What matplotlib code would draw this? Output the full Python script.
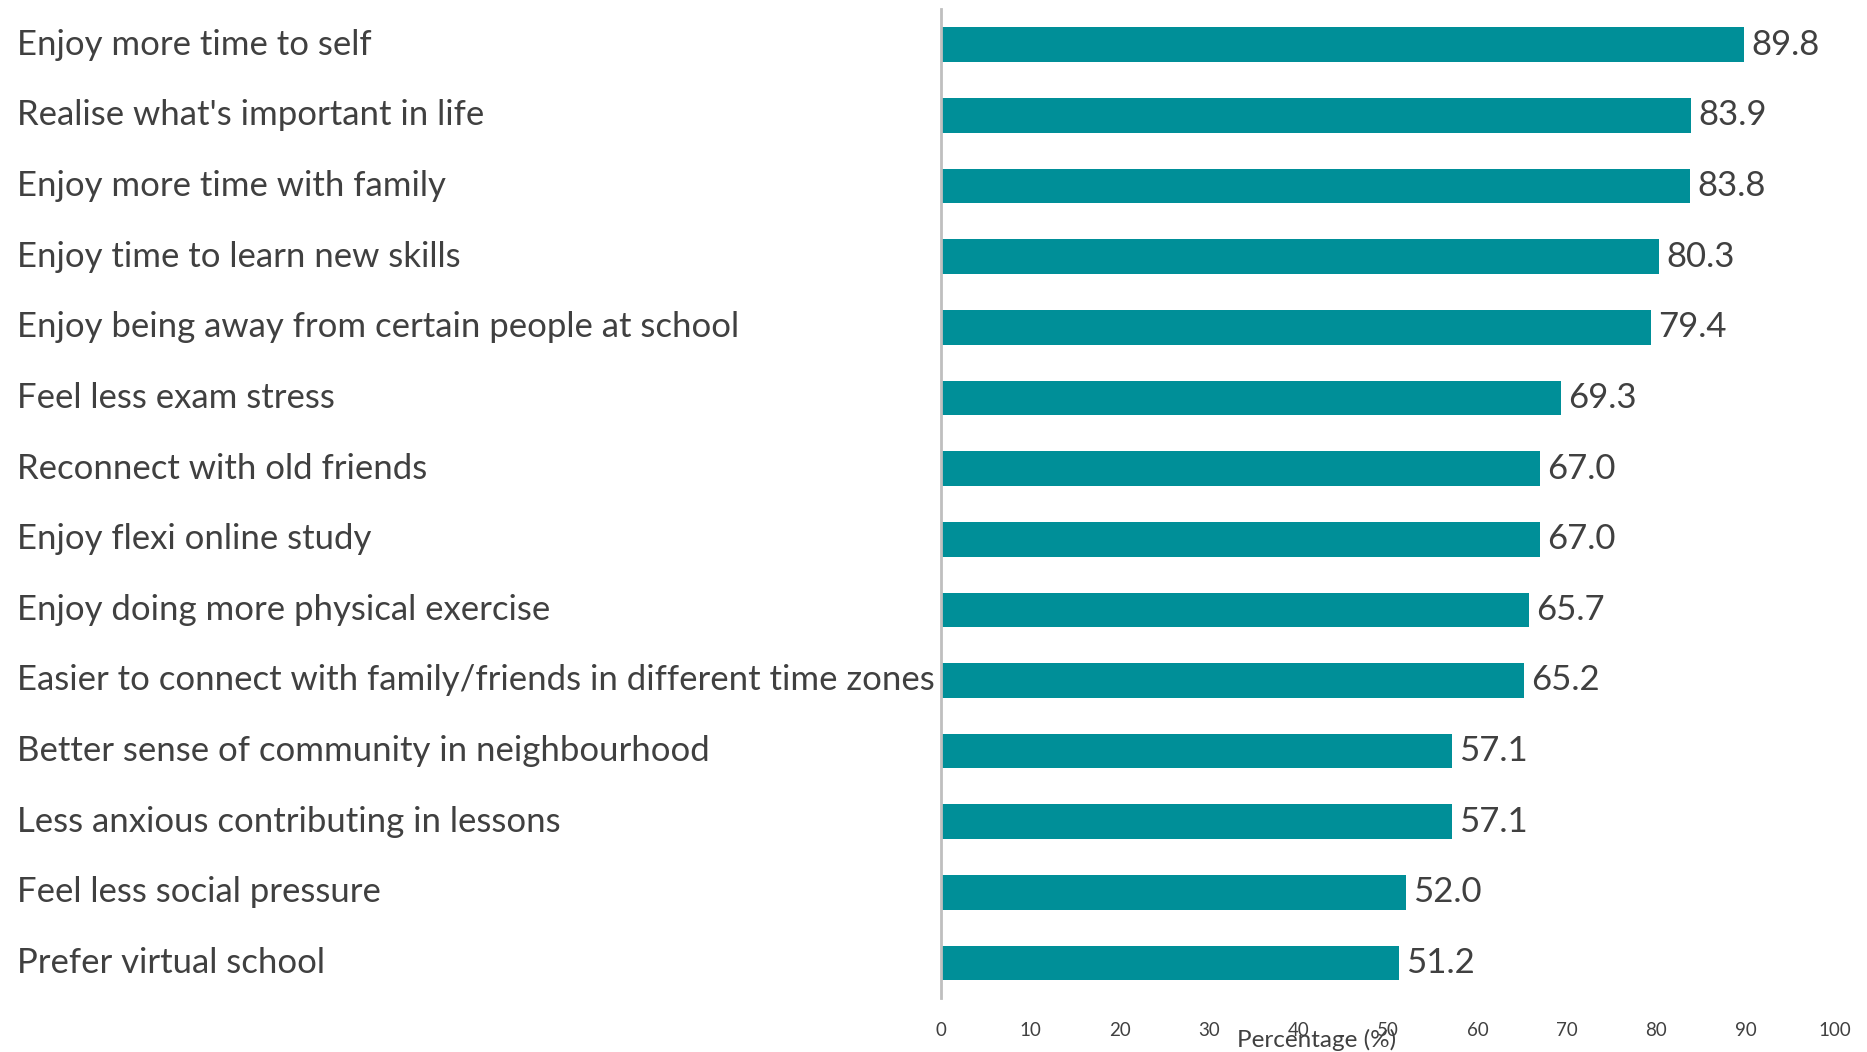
import matplotlib
matplotlib.use("Agg")
import matplotlib.pyplot as plt
from matplotlib.transforms import blended_transform_factory

categories = [
    "Enjoy more time to self",
    "Realise what's important in life",
    "Enjoy more time with family",
    "Enjoy time to learn new skills",
    "Enjoy being away from certain people at school",
    "Feel less exam stress",
    "Reconnect with old friends",
    "Enjoy flexi online study",
    "Enjoy doing more physical exercise",
    "Easier to connect with family/friends in different time zones",
    "Better sense of community in neighbourhood",
    "Less anxious contributing in lessons",
    "Feel less social pressure",
    "Prefer virtual school",
]
values = [89.8, 83.9, 83.8, 80.3, 79.4, 69.3, 67.0, 67.0, 65.7, 65.2, 57.1, 57.1, 52.0, 51.2]
xticks = [0, 10, 20, 30, 40, 50, 60, 70, 80, 90, 100]

BAR = "#008F98"
TEXT = "#404040"
plt.rcParams["font.family"] = ["Lato", "DejaVu Sans"]

fig = plt.figure(figsize=(18.67, 10.52), dpi=100)
ax = fig.add_axes([0.504, 0.051, 0.479, 0.940])

pos = list(range(len(categories)))
ax.barh(pos, values, height=0.49, color=BAR)
ax.set_ylim(len(categories) - 0.5, -0.5)
ax.set_xlim(0, 100)

for p, v in zip(pos, values):
    ax.text(v + 0.8, p, f"{v:.1f}", va="center", ha="left", fontsize=25, color=TEXT)

# category labels, left-aligned at the figure edge
ax.set_yticks(pos)
ax.set_yticklabels([])
lab_tr = blended_transform_factory(fig.transFigure, ax.transData)
for p, c in zip(pos, categories):
    ax.text(0.009, p, c, transform=lab_tr, ha="left", va="center",
            fontsize=25, color=TEXT)

ax.set_xticks(xticks)
ax.set_xticklabels([str(t) for t in xticks], fontsize=13.5, color=TEXT)
ax.tick_params(axis="x", length=0, pad=17)
ax.tick_params(axis="y", length=0)
ax.text(0.42, -0.042, "Percentage (%)", transform=ax.transAxes, ha="center",
        va="center", fontsize=17.5, color=TEXT)

for s in ["top", "right", "bottom"]:
    ax.spines[s].set_visible(False)
ax.spines["left"].set_color("#BFBFBF")
ax.spines["left"].set_linewidth(2)

fig.savefig("out.png", dpi=100)
